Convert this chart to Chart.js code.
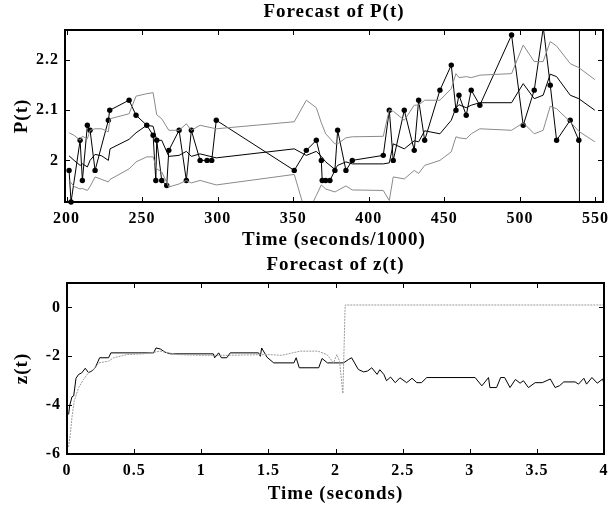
<!DOCTYPE html>
<html>
<head>
<meta charset="utf-8">
<title>Forecast of P(t) and z(t)</title>
<script src="https://cdn.jsdelivr.net/npm/chart.js@4.4.1/dist/chart.umd.min.js"></script>
<style>
  body { margin: 0; background: #fff; }
  canvas { display: block; }
</style>
</head>
<body>
<canvas id="pChart" width="614" height="253"></canvas>
<canvas id="zChart" width="614" height="254"></canvas>
<script>
//****DATA****//

// observed price points (time in seconds/1000)
var obsTime = [201.7, 203.0, 209.0, 210.5, 213.8, 215.6, 218.9, 227.7, 228.6, 241.4,
  246.0, 253.1, 257.3, 259.1, 259.7, 263.0, 266.3, 267.7, 274.5, 279.3,
  282.6, 288.4, 293.0, 296.1, 299.1, 350.7, 358.7, 365.3, 368.6, 369.2,
  371.5, 374.3, 377.6, 379.4, 384.9, 389.1, 409.6, 413.6, 416.2, 423.5,
  430.1, 433.0, 437.0, 447.1, 454.6, 457.7, 459.7, 464.5, 467.8, 473.5,
  494.5, 502.2, 509.5, 515.5, 520.1, 524.3, 533.3, 539.0];
var obsP = [1.98, 1.917, 2.04, 1.96, 2.07, 2.06, 1.98, 2.08, 2.10, 2.12,
  2.09, 2.07, 2.05, 1.96, 2.04, 1.96, 1.95, 2.02, 2.06, 1.96,
  2.06, 2.0, 2.0, 2.0, 2.08, 1.98, 2.02, 2.04, 2.0, 1.96,
  1.96, 1.96, 1.98, 2.06, 1.98, 2.0, 2.01, 2.10, 2.0, 2.10,
  2.02, 2.12, 2.04, 2.14, 2.19, 2.10, 2.13, 2.09, 2.14, 2.11,
  2.25, 2.07, 2.14, 2.265, 2.15, 2.04, 2.08, 2.04];

// forecast mean and band
var fcTime = [201.7, 205.0, 209.0, 210.5, 213.8, 215.6, 218.9, 223.3, 227.7, 228.8,
  241.4, 246.0, 253.1, 257.3, 259.7, 263.0, 267.7, 274.5, 279.3, 282.6,
  288.4, 299.1, 350.7, 358.7, 365.3, 368.6, 371.5, 377.6, 379.4, 384.9,
  389.1, 409.6, 413.6, 416.2, 423.5, 430.1, 433.0, 437.0, 447.1, 454.6,
  457.7, 459.7, 464.5, 467.8, 473.5, 494.5, 502.2, 509.5, 515.4, 520.1,
  524.3, 533.3, 539.0, 549.6];
var fcMean = [2.009, 2.0, 1.99, 1.993, 1.987, 2.0, 2.012, 2.009, 2.0, 2.023,
  2.042, 2.055, 2.07, 2.068, 2.04, 2.04, 2.008, 2.01, 2.018, 2.008,
  2.013, 2.005, 2.023, 2.01, 2.018, 2.008, 1.997, 1.982, 1.99, 1.997,
  1.993, 1.993, 1.995, 2.033, 2.023, 2.039, 2.037, 2.059, 2.053, 2.08,
  2.105, 2.111, 2.105, 2.11, 2.115, 2.115, 2.153, 2.123, 2.13, 2.172,
  2.167, 2.13, 2.123, 2.10];
var fcUpper = [2.055, 2.05, 2.04, 2.048, 2.043, 2.06, 2.063, 2.063, 2.057, 2.083,
  2.093, 2.128, 2.133, 2.135, 2.091, 2.083, 2.06, 2.06, 2.073, 2.06,
  2.07, 2.063, 2.077, 2.12, 2.105, 2.075, 2.053, 2.033, 2.033, 2.045,
  2.047, 2.048, 2.101, 2.098, 2.08, 2.11, 2.11, 2.12, 2.12, 2.143,
  2.173, 2.165, 2.167, 2.165, 2.17, 2.173, 2.23, 2.197, 2.197, 2.237,
  2.228, 2.193, 2.185, 2.161];
var fcLower = [1.96, 1.948, 1.943, 1.944, 1.94, 1.948, 1.967, 1.962, 1.957, 1.962,
  1.983, 1.997, 2.007, 2.007, 1.983, 1.977, 1.947, 1.953, 1.96, 1.955,
  1.96, 1.951, 1.972, 1.89, 1.93, 1.951, 1.943, 1.937, 1.94, 1.949,
  1.941, 1.94, 1.92, 1.967, 1.963, 1.98, 1.974, 1.99, 2.0, 2.017,
  2.047, 2.045, 2.043, 2.053, 2.063, 2.06, 2.075, 2.053, 2.06, 2.108,
  2.103, 2.077, 2.058, 2.037];

var nowTime = 539.4; // vertical marker line

var pRange = [1.917, 2.26];
var pTimeRange = [199, 555];
var pTicks = [2.0, 2.1, 2.2];
var pTimeTicks = [200, 250, 300, 350, 400, 450, 500, 550];

// z(t) estimate (black) and forecast (gray), time in seconds
var zTime = [0.012, 0.02, 0.037, 0.05, 0.067, 0.087, 0.11, 0.136, 0.16, 0.186,
  0.21, 0.243, 0.31, 0.327, 0.645, 0.663, 0.695, 0.73, 0.77, 1.09,
  1.10, 1.13, 1.15, 1.19, 1.216, 1.427, 1.44, 1.45, 1.49, 1.54,
  1.69, 1.707, 1.73, 1.875, 1.9, 1.94, 2.06, 2.097, 2.12, 2.17,
  2.21, 2.24, 2.27, 2.31, 2.33, 2.36, 2.38, 2.41, 2.445, 2.48,
  2.53, 2.57, 2.606, 2.64, 2.68, 3.04, 3.09, 3.14, 3.15, 3.2,
  3.23, 3.26, 3.3, 3.34, 3.375, 3.4, 3.437, 3.487, 3.54, 3.6,
  3.636, 3.67, 3.7, 3.785, 3.81, 3.85, 3.87, 3.91, 3.95, 3.99, 4.0];
var zEst = [-4.38, -4.02, -3.66, -3.62, -2.9, -2.74, -2.68, -2.49, -2.67, -2.6,
  -2.47, -2.06, -2.06, -1.86, -1.86, -1.66, -1.7, -1.83, -1.9, -1.9,
  -2.06, -1.86, -2.06, -2.06, -1.86, -1.86, -2.0, -1.66, -2.04, -2.27,
  -2.27, -2.06, -2.47, -2.47, -2.09, -2.27, -2.27, -2.13, -2.06, -2.54,
  -2.64, -2.6, -2.47, -2.74, -2.55, -2.74, -3.0, -2.85, -3.08, -2.88,
  -3.08, -2.9, -3.08, -3.08, -2.87, -2.87, -3.21, -2.87, -3.28, -3.28,
  -2.87, -2.87, -3.28, -2.95, -3.1, -3.0, -3.28, -3.08, -3.08, -2.93,
  -3.28, -3.2, -3.05, -3.05, -3.14, -2.9, -3.14, -2.87, -3.1, -2.93, -3.14];

var gTime = [0.012, 0.025, 0.037, 0.054, 0.087, 0.124, 0.16, 0.2, 0.235, 0.31,
  0.347, 0.447, 0.57, 0.695, 0.82, 1.0, 1.2, 1.5, 1.6, 1.737,
  1.87, 1.936, 1.96, 1.985, 2.01, 2.03, 2.055, 2.072, 4.0];
var gVal = [-5.71, -5.17, -4.49, -3.82, -3.28, -2.94, -2.67, -2.54, -2.27, -2.2,
  -2.06, -1.93, -1.9, -1.79, -1.93, -1.96, -1.96, -1.93, -1.96, -1.79,
  -1.79, -1.93, -2.09, -2.27, -1.93, -2.2, -3.52, 0.1, 0.1];

var zRange = [-6, 1];
var zTicks = [-6, -4, -2, 0];
var zTimeTicks = [0, 0.5, 1, 1.5, 2, 2.5, 3, 3.5, 4];

//****HELPERS****//

Chart.defaults.font.family = '"Liberation Serif", "Times New Roman", serif';
Chart.defaults.font.size = 16;
Chart.defaults.font.weight = 'bold';
Chart.defaults.color = '#000';

var labelFont = { size: 19, weight: 'bold', lineHeight: '22px' };

function toPoints(xs, ys) {
  return xs.map(function (x, i) {
    return { x: x, y: ys[i] };
  });
}

function line(data, color, extra) {
  var ds = {
    data: data,
    borderColor: color,
    backgroundColor: color,
    borderWidth: 1,
    pointRadius: 0,
    tension: 0,
    fill: false
  };
  for (var k in extra) ds[k] = extra[k];
  return ds;
}

// the old matlab text is spaced out a bit
var spacingPlugin = {
  id: 'spacing',
  beforeUpdate: function (chart) { chart.ctx.letterSpacing = '1px'; },
  beforeDraw: function (chart) { chart.ctx.letterSpacing = '1px'; }
};

// matlab style box with inward ticks
var framePlugin = {
  id: 'frame',
  afterDatasetsDraw: function (chart) {
    var ctx = chart.ctx;
    var a = chart.chartArea;
    var xs = chart.scales.x;
    var ys = chart.scales.y;
    ctx.save();
    ctx.strokeStyle = '#000';
    ctx.lineWidth = 1;
    ctx.beginPath();
    xs.ticks.forEach(function (t) {
      var px = Math.round(xs.getPixelForValue(t.value)) + 0.5;
      ctx.moveTo(px, a.top);
      ctx.lineTo(px, a.top + 5);
      ctx.moveTo(px, a.bottom);
      ctx.lineTo(px, a.bottom - 5);
    });
    ys.ticks.forEach(function (t) {
      var py = Math.round(ys.getPixelForValue(t.value)) + 0.5;
      ctx.moveTo(a.left, py);
      ctx.lineTo(a.left + 5, py);
      ctx.moveTo(a.right, py);
      ctx.lineTo(a.right - 5, py);
    });
    ctx.stroke();
    ctx.lineWidth = 2;
    ctx.strokeRect(a.left, a.top, a.right - a.left, a.bottom - a.top);
    ctx.restore();
  }
};

function makeChart(id, cfg) {
  var ctx = document.getElementById(id).getContext('2d');
  return new Chart(ctx, {
    type: 'line',
    data: { datasets: cfg.datasets },
    options: {
      responsive: false,
      animation: false,
      layout: { padding: { right: cfg.padRight } },
      plugins: {
        legend: { display: false },
        tooltip: { enabled: false },
        title: {
          display: true,
          fullSize: false,
          text: cfg.title,
          font: labelFont,
          padding: { top: 1, bottom: 7 }
        }
      },
      scales: {
        x: {
          type: 'linear',
          min: cfg.xRange[0],
          max: cfg.xRange[1],
          grid: { display: false, drawTicks: false },
          border: { display: false },
          afterBuildTicks: function (scale) {
            scale.ticks = cfg.xTicks.map(function (v) { return { value: v }; });
          },
          ticks: {
            padding: 7,
            maxRotation: 0,
            autoSkip: false,
            callback: function (v) { return String(v); }
          },
          title: {
            display: true,
            text: cfg.xTitle,
            font: labelFont,
            padding: { top: 0, bottom: 2 }
          },
          afterFit: function (scale) {
            scale.height = cfg.xHeight;
            scale.paddingLeft = 0;
            scale.paddingRight = 0;
          }
        },
        y: {
          min: cfg.yRange[0],
          max: cfg.yRange[1],
          grid: { display: false, drawTicks: false },
          border: { display: false },
          afterBuildTicks: function (scale) {
            scale.ticks = cfg.yTicks.map(function (v) { return { value: v }; });
          },
          ticks: {
            padding: 6,
            autoSkip: false,
            callback: function (v) { return String(v); }
          },
          title: {
            display: true,
            text: cfg.yTitle,
            font: labelFont,
            padding: { top: 11, bottom: 0 }
          },
          afterFit: function (scale) {
            scale.width = cfg.yWidth;
            scale.paddingTop = 0;
            scale.paddingBottom = 0;
          }
        }
      }
    },
    plugins: [spacingPlugin, framePlugin]
  });
}

//****CHARTS****//

var bandGray = '#8a8a8a';

makeChart('pChart', {
  title: 'Forecast of P(t)',
  xTitle: 'Time (seconds/1000)',
  yTitle: 'P(t)',
  xRange: pTimeRange,
  yRange: pRange,
  xTicks: pTimeTicks,
  yTicks: pTicks,
  xHeight: 51,
  yWidth: 65,
  padRight: 11,
  datasets: [
    line(toPoints(fcTime, fcUpper), bandGray),
    line(toPoints(fcTime, fcLower), bandGray),
    line(toPoints(fcTime, fcMean), '#000'),
    line(toPoints([nowTime, nowTime], pRange), '#000'),
    line(toPoints(obsTime, obsP), '#000', {
      pointRadius: 2.7,
      pointBorderWidth: 0,
      clip: { left: 5, top: 0, right: 5, bottom: 5 }
    })
  ]
});

makeChart('zChart', {
  title: 'Forecast of z(t)',
  xTitle: 'Time (seconds)',
  yTitle: 'z(t)',
  xRange: [0, 4],
  yRange: zRange,
  xTicks: zTimeTicks,
  yTicks: zTicks,
  xHeight: 53,
  yWidth: 67,
  padRight: 10,
  datasets: [
    line(toPoints(gTime, gVal), '#9a9a9a', { borderDash: [2, 1] }),
    line(toPoints(zTime, zEst), '#000')
  ]
});
</script>
</body>
</html>
